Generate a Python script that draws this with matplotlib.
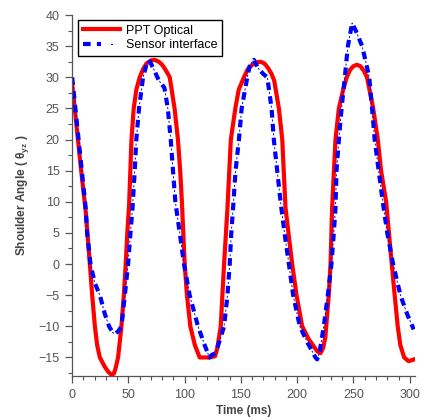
import matplotlib.pyplot as plt
import numpy as np
from matplotlib.ticker import MultipleLocator
from matplotlib.legend_handler import HandlerTuple

plt.rcParams['font.family'] = ['Liberation Sans', 'DejaVu Sans']
plt.rcParams['lines.scale_dashes'] = False

# PPT Optical (red)
t_ppt = [0, 4, 8, 12, 15.7, 17.8, 20.2, 22.2, 24.6, 29, 32, 35, 37, 38.5, 40.8,
         43.8, 45.9, 47.6, 49, 50.6, 52.7, 54.7, 57, 60, 63, 66, 70, 73.4, 77, 80,
         83, 86.7, 91, 94, 96, 97.5, 100, 102, 105, 109, 113.3, 118, 122, 127,
         129, 132, 135, 138, 141, 145, 148, 152.6, 156, 160, 164, 167.5, 171, 174,
         177, 179.5, 183.7, 186.7, 188, 189.6, 195.5, 199.4, 204.4, 210, 217.7,
         220.7, 223, 225, 228, 229.6, 231, 234, 237, 240.8, 244, 247, 250, 253,
         256, 259, 262, 267.5, 271.6, 274.5, 279, 284, 286.6, 289.3, 291.6, 295,
         299, 304]
v_ppt = [29, 22, 15, 8.5, 0, -5, -10, -13, -15, -16.5, -17.3, -17.8, -17.6, -16.8, -15,
         -10, -5, 0, 5, 9.5, 20, 25, 28, 30, 31.3, 32.2, 32.7, 32.8, 32.5, 32,
         31.2, 30, 25, 20, 15, 10, 0, -5, -10, -13, -15, -15, -15, -14.8,
         -13.5, -10, 0, 9, 20, 25, 28, 30, 31.3, 32, 32.4, 32.5, 32.2, 31.5,
         30.6, 29.5, 25, 20, 15, 9, 0, -5, -10, -12, -14,
         -14.3, -13.5, -11.7, -5, 0, 9, 20, 25, 28, 30, 31.2, 31.8, 32,
         31.8, 31.1, 30, 25, 20, 15, 10, 0, -5, -10, -13, -15,
         -15.6, -15.3]

# Sensor interface (blue)
t_sen = [0, 4, 8, 12, 13.3, 16.3, 20, 24.6, 29, 32.8, 36, 38, 41, 43.8, 46.8,
         49.7, 51.8, 53.6, 55.6, 57, 59.4, 63, 66, 68.3, 72, 77, 82, 85, 87.6,
         89.6, 91.7, 95.6, 99.4, 104.4, 111.8, 117.7, 122, 124, 127.5, 130.5, 135,
         138, 140, 141.4, 143, 145.2, 148.2, 150.6, 155.6, 158, 161.5, 165, 170,
         173.4, 177.2, 179.2, 182.2, 185.2, 188.7, 192.6, 196.4, 202.3, 208.8,
         216.2, 217.7, 220, 223.6, 227.2, 230.4, 232.5, 234, 234.9, 237, 239.4,
         242.3, 245, 248.8, 252, 257.7, 264, 266.5, 268.8, 272.4, 276, 280, 285.2,
         291.7, 297.6, 303.5]
v_sen = [30, 23, 16, 9, 5, 0, -3, -5, -8, -10, -11, -11.2, -10.8, -10, -5,
         0, 5, 9, 15, 20, 25, 30, 32, 32.8, 31.5, 29.5, 28.3, 25, 20,
         15, 10, 5, 0, -5, -10, -13, -15, -14.6, -14.3, -12.6, -10,
         -5, 0, 5, 9, 15, 20, 25, 30, 32, 32.8, 31.5, 30.5,
         30, 25, 20, 15, 10, 5, 0, -5, -10, -12.5,
         -15, -15.3, -14, -10, -5, 0, 5, 9, 15, 20, 25,
         30, 35, 38.7, 37.5, 35, 30, 25, 20, 15, 10, 5, 0,
         -5, -8, -10.5]

fig = plt.figure(figsize=(4.22, 4.17), dpi=100)
ax = fig.add_axes([0.171, 0.098, 0.812, 0.866])

l1, = ax.plot(t_ppt, v_ppt, color='#ff0000', lw=3, solid_joinstyle='round')
b1, = ax.plot(t_sen, v_sen, color='#0000ff', lw=3, linestyle=(0, (5.5, 4.5)))
b2, = ax.plot(t_sen, v_sen, color='#0000ff', lw=0.7, linestyle=(3.2, (1.5, 8.5)))

ax.set_xlim(0, 304.5)
ax.set_ylim(-18, 40)
ax.xaxis.set_major_locator(MultipleLocator(50))
ax.xaxis.set_minor_locator(MultipleLocator(10))
ax.yaxis.set_major_locator(MultipleLocator(5))
ax.yaxis.set_minor_locator(MultipleLocator(2.5))

for s in ['top', 'right']:
    ax.spines[s].set_visible(False)
for s in ['left', 'bottom']:
    ax.spines[s].set_color('#555555')
    ax.spines[s].set_linewidth(0.9)
ax.tick_params(which='major', direction='out', length=5, width=0.9, pad=4,
               color='#555555', labelcolor='#555555', labelsize=9)
ax.tick_params(which='minor', direction='out', length=3, width=0.8, color='#555555')

ax.set_xlabel('Time (ms)', fontsize=8.5, fontweight='bold', color='#444444', labelpad=3)
ax.set_ylabel(r'Shoulder Angle ( θ$_{\mathregular{yz}}$ )', fontsize=8.5,
              fontweight='bold', color='#444444', labelpad=5)

leg = ax.legend([l1, (b1, b2)], ['PPT Optical', 'Sensor interface'],
                handler_map={tuple: HandlerTuple(ndivide=None, pad=0)},
                loc='upper left', bbox_to_anchor=(0.018, 0.985), fontsize=9,
                frameon=True, fancybox=False, framealpha=1, edgecolor='black',
                handlelength=3, borderpad=0.35, labelspacing=0.2, handletextpad=0.5,
                borderaxespad=0)
leg.get_frame().set_linewidth(1)

plt.savefig('out.png')
